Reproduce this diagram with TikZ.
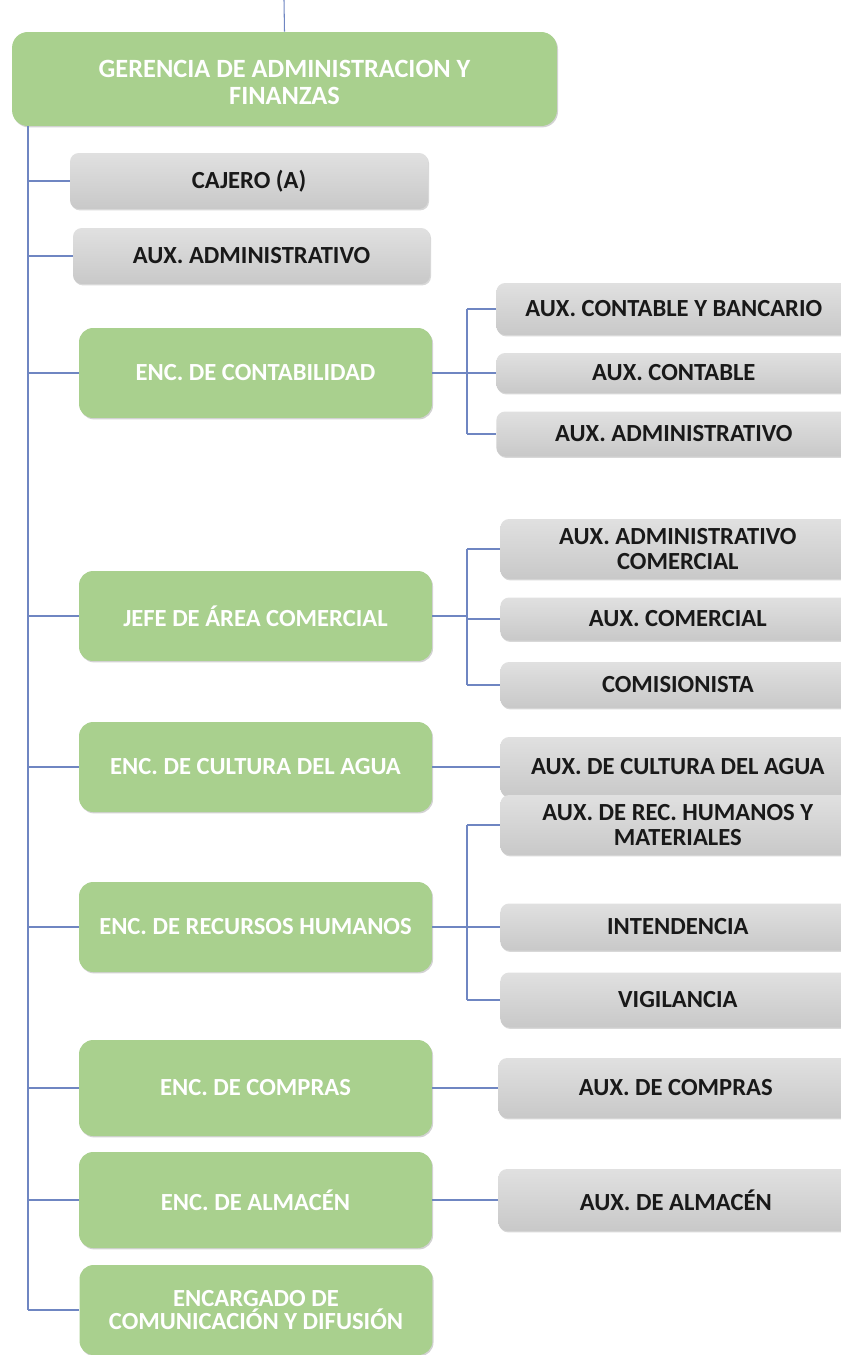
\documentclass[tikz,border=0pt]{standalone}
\usepackage{fontspec}
\setmainfont{Carlito}
\usepackage{tikz}
\usetikzlibrary{positioning, shapes, shadows}
\definecolor{verdeGer}{HTML}{A9D08E}
\definecolor{grisPuesto}{HTML}{D3D3D3}
\definecolor{lineaOrg}{HTML}{6F86C2}

\begin{document}
\begin{tikzpicture}[x=0.02cm, y=-0.02cm,
  jefe/.style={fill=verdeGer, rounded corners=8pt, text=white, align=center,
               minimum width=7.06cm, minimum height=1.8cm, inner sep=2pt,
               font=\fontsize{14}{13.5}\selectfont\bfseries,
               drop shadow={opacity=0.35, shadow xshift=0.6pt, shadow yshift=-0.8pt}},
  puesto/.style={top color=grisPuesto!70, bottom color=grisPuesto!95!black, rounded corners=5pt,
                 text=black!90, align=center, minimum width=7.1cm, minimum height=1.12cm, inner sep=2pt,
                 font=\fontsize{14}{13.8}\selectfont\bfseries,
                 drop shadow={opacity=0.3, shadow xshift=0.6pt, shadow yshift=-0.8pt}},
  linea/.style={lineaOrg, line width=0.6pt}
]
  \clip (0,0) rectangle (841,1355);
  \fill[white] (0,0) rectangle (841,1355);

  % cabecera
  \coordinate (arriba) at (284,0);
  \node[jefe, minimum width=10.9cm, minimum height=1.88cm, rounded corners=9pt,
        font=\fontsize{15}{15.5}\selectfont\bfseries] (ger) at (284.5,79)
        {\rule{0pt}{14pt}GERENCIA DE ADMINISTRACION Y\\FINANZAS};
  \draw[linea] (arriba) -- (ger.north);

  % columna principal
  \node[puesto, minimum width=7.16cm] (caj) at (249,181) {CAJERO (A)};
  \node[puesto, minimum width=7.14cm] (auxadm) at (251.5,256) {AUX. ADMINISTRATIVO};
  \node[jefe] (conta) at (255.5,373) {ENC. DE CONTABILIDAD};
  \node[jefe] (comer) at (255.5,616) {JEFE DE \'AREA COMERCIAL};
  \node[jefe] (cult) at (255.5,767) {ENC. DE CULTURA DEL AGUA};
  \node[jefe] (rh) at (255.5,927) {ENC. DE RECURSOS HUMANOS};
  \node[jefe, minimum height=1.92cm] (compras) at (255.5,1088) {ENC. DE COMPRAS};
  \node[jefe, minimum height=1.92cm] (alm) at (255.5,1200) {ENC. DE ALMAC\'EN};
  \node[jefe, font=\fontsize{14}{13.2}\selectfont\bfseries] (difu) at (256,1310)
        {ENCARGADO DE\\COMUNICACI\'ON Y DIFUSI\'ON};

  % puestos auxiliares
  \node[puesto, anchor=west, minimum height=1.04cm] (c1) at (496,309) {AUX. CONTABLE Y BANCARIO};
  \node[puesto, anchor=west, minimum height=0.8cm] (c2) at (496,373) {AUX. CONTABLE};
  \node[puesto, anchor=west, minimum height=0.9cm] (c3) at (496,434) {AUX. ADMINISTRATIVO};

  \node[puesto, anchor=west, minimum height=1.2cm] (m1) at (500,549) {AUX. ADMINISTRATIVO\\COMERCIAL};
  \node[puesto, anchor=west, minimum height=0.86cm] (m2) at (500,619) {AUX. COMERCIAL};
  \node[puesto, anchor=west, minimum height=0.92cm] (m3) at (500,685) {COMISIONISTA};

  \node[puesto, anchor=west, minimum height=1.2cm] (a1) at (500,767) {AUX. DE CULTURA DEL AGUA};

  \node[puesto, anchor=west, minimum height=1.2cm] (r1) at (500,825) {AUX. DE REC. HUMANOS Y\\MATERIALES};
  \node[puesto, anchor=west, minimum height=0.94cm] (r2) at (500,927) {INTENDENCIA};
  \node[puesto, anchor=west, minimum height=1.1cm] (r3) at (500,1000) {VIGILANCIA};

  \node[puesto, anchor=west, minimum height=1.2cm] (p1) at (498,1088) {AUX. DE COMPRAS};
  \node[puesto, anchor=west, minimum height=1.24cm] (s1) at (498,1200) {AUX. DE ALMAC\'EN};

  % conectores
  \coordinate (tronco) at (28,126);
  \draw[linea] (tronco) -- (tronco |- difu.west);
  \foreach \n in {caj,auxadm,conta,comer,cult,rh,compras,alm,difu}{
    \draw[linea] (tronco |- \n.west) -- (\n.west);
  }

  \coordinate (rama) at (467,0);
  \draw[linea] (conta.east) -- (rama |- conta.east);
  \draw[linea] (rama |- c1.west) -- (rama |- c3.west);
  \foreach \n in {c1,c2,c3}{
    \draw[linea] (rama |- \n.west) -- (\n.west);
  }

  \draw[linea] (comer.east) -- (rama |- comer.east);
  \draw[linea] (rama |- m1.west) -- (rama |- m3.west);
  \foreach \n in {m1,m2,m3}{
    \draw[linea] (rama |- \n.west) -- (\n.west);
  }

  \draw[linea] (rh.east) -- (rama |- rh.east);
  \draw[linea] (rama |- r1.west) -- (rama |- r3.west);
  \foreach \n in {r1,r2,r3}{
    \draw[linea] (rama |- \n.west) -- (\n.west);
  }

  \draw[linea] (cult.east) -- (a1.west);
  \draw[linea] (compras.east) -- (p1.west);
  \draw[linea] (alm.east) -- (s1.west);
\end{tikzpicture}
\end{document}
